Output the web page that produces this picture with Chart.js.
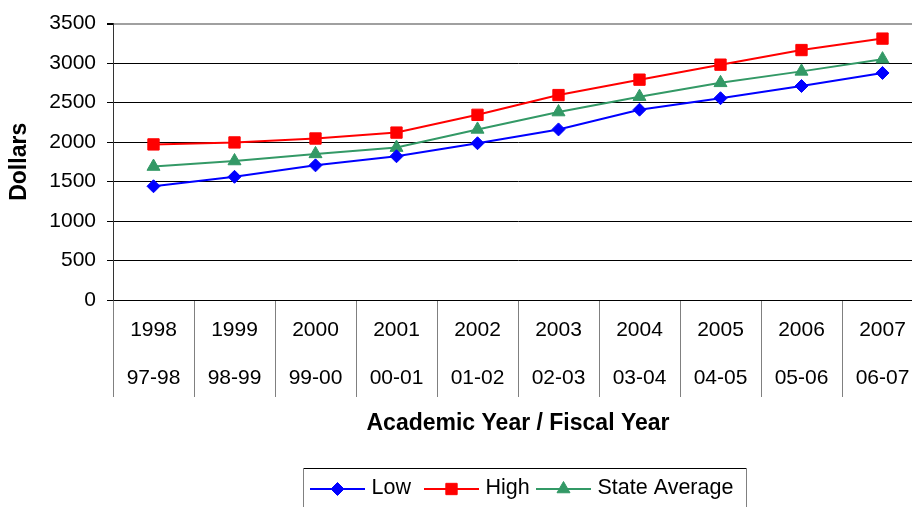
<!DOCTYPE html>
<html>
<head>
<meta charset="utf-8">
<script src="https://cdn.jsdelivr.net/npm/chart.js@4"></script>
<style>
  html, body { margin: 0; padding: 0; background: #fff; overflow: hidden; }
  #wrap { width: 912px; height: 507px; overflow: hidden; position: relative; }
  #c { position: absolute; left: 0; top: 0; }
</style>
</head>
<body>
<div id="wrap"><canvas id="c" width="932" height="507"></canvas></div>
<script>
// ---- Data ----
const calendarYears = ['1998', '1999', '2000', '2001', '2002', '2003', '2004', '2005', '2006', '2007'];
const fiscalYears   = ['97-98', '98-99', '99-00', '00-01', '01-02', '02-03', '03-04', '04-05', '05-06', '06-07'];
const lowValues     = [1440, 1560, 1705, 1820, 1985, 2160, 2410, 2555, 2710, 2875];
const highValues    = [1970, 1995, 2045, 2120, 2345, 2595, 2790, 2980, 3165, 3310];
const averageValues = [1690, 1760, 1850, 1930, 2160, 2380, 2575, 2750, 2895, 3050];
const seriesNames   = ['Low', 'High', 'State Average'];
const yTickLabels   = ['0', '500', '1000', '1500', '2000', '2500', '3000', '3500'];
const yTitle = 'Dollars';
const xTitle = 'Academic Year / Fiscal Year';

const FONT = "'Liberation Sans', Arial, sans-serif";
const labels = calendarYears.map((y, i) => [y, fiscalYears[i]]);

const legendPlugin = {
  id: 'boxLegend',
  afterDraw(chart) {
    const ctx = chart.ctx;
    const boxL = 303, boxT = 468, boxR = 747, boxB = 540;
    const itemStarts = [310, 424, 536];
    ctx.save();
    ctx.lineWidth = 1;
    ctx.strokeStyle = '#000';
    ctx.beginPath(); ctx.moveTo(boxL, boxT + 0.5); ctx.lineTo(boxR, boxT + 0.5); ctx.stroke();
    ctx.strokeStyle = '#808080';
    ctx.beginPath(); ctx.moveTo(boxL + 0.5, boxT); ctx.lineTo(boxL + 0.5, boxB); ctx.stroke();
    ctx.beginPath(); ctx.moveTo(boxR - 0.5, boxT); ctx.lineTo(boxR - 0.5, boxB); ctx.stroke();

    ctx.font = '21.5px ' + FONT;
    ctx.textBaseline = 'middle';
    ctx.textAlign = 'left';
    const cy = 489;
    chart.data.datasets.forEach((ds, i) => {
      const x = itemStarts[i];
      ctx.strokeStyle = ds.borderColor;
      ctx.lineWidth = ds.borderWidth;
      ctx.beginPath(); ctx.moveTo(x, cy); ctx.lineTo(x + 55, cy); ctx.stroke();
      ctx.fillStyle = ds.pointBackgroundColor;
      ctx.strokeStyle = ds.pointBorderColor;
      ctx.lineWidth = 1;
      Chart.helpers.drawPoint(ctx, {pointStyle: ds.pointStyle, radius: ds.pointRadius, rotation: 0, borderWidth: 1}, x + 27.5, cy);
      ctx.fillStyle = '#000';
      ctx.fillText(ds.label, x + 61.5, cy - 1);
    });
    ctx.restore();
  }
};

new Chart(document.getElementById('c'), {
  type: 'line',
  data: {
    labels: labels,
    datasets: [
      { label: seriesNames[0], data: lowValues, borderColor: '#0000FF', backgroundColor: '#0000FF',
        borderWidth: 2, pointStyle: 'rectRot', pointRadius: 6.5, pointBackgroundColor: '#0000FF',
        pointBorderColor: '#0000FF', pointBorderWidth: 1, tension: 0 },
      { label: seriesNames[1], data: highValues, borderColor: '#FF0000', backgroundColor: '#FF0000',
        borderWidth: 2, pointStyle: 'rect', pointRadius: 8, pointBackgroundColor: '#FF0000',
        pointBorderColor: '#FF0000', pointBorderWidth: 1, tension: 0 },
      { label: seriesNames[2], data: averageValues, borderColor: '#339966', backgroundColor: '#339966',
        borderWidth: 2, pointStyle: 'triangle', pointRadius: 7.5, pointBackgroundColor: '#339966',
        pointBorderColor: '#339966', pointBorderWidth: 1, tension: 0 }
    ]
  },
  options: {
    responsive: false,
    animation: false,
    devicePixelRatio: 1,
    layout: { padding: { top: 18, right: 0, left: 0, bottom: 0 } },
    plugins: { legend: { display: false }, tooltip: { enabled: false } },
    scales: {
      x: {
        offset: true,
        afterFit(scale) { scale.height = 207; },
        grid: { offset: true, drawOnChartArea: false, drawTicks: true, tickLength: 97, color: '#808080', lineWidth: 1 },
        border: { display: true, color: '#000', width: 1 },
        ticks: { color: '#000', font: { family: FONT, size: 21, lineHeight: 2.25 }, padding: -90, maxRotation: 0, autoSkip: false },
        title: { display: true, text: xTitle, color: '#000', font: { family: FONT, size: 23, weight: 'bold' }, padding: { top: 0, bottom: 70 } }
      },
      y: {
        min: 0, max: 3500,
        afterFit(scale) { scale.width = 113; },
        grid: { color: c => (c.tick && c.tick.value === 3500) ? '#a0a0a0' : '#000', tickColor: '#000', lineWidth: c => (c.tick && c.tick.value === 3500) ? 2 : 1, tickLength: 6 },
        border: { display: true, color: '#333', width: 1 },
        ticks: { stepSize: 500, color: '#000', font: { family: FONT, size: 21 }, padding: 11,
                 callback: (v, i) => yTickLabels[i] },
        title: { display: true, text: yTitle, color: '#000', font: { family: FONT, size: 23, weight: 'bold' }, padding: { top: 6, bottom: 0 } }
      }
    }
  },
  plugins: [legendPlugin]
});
</script>
</body>
</html>
